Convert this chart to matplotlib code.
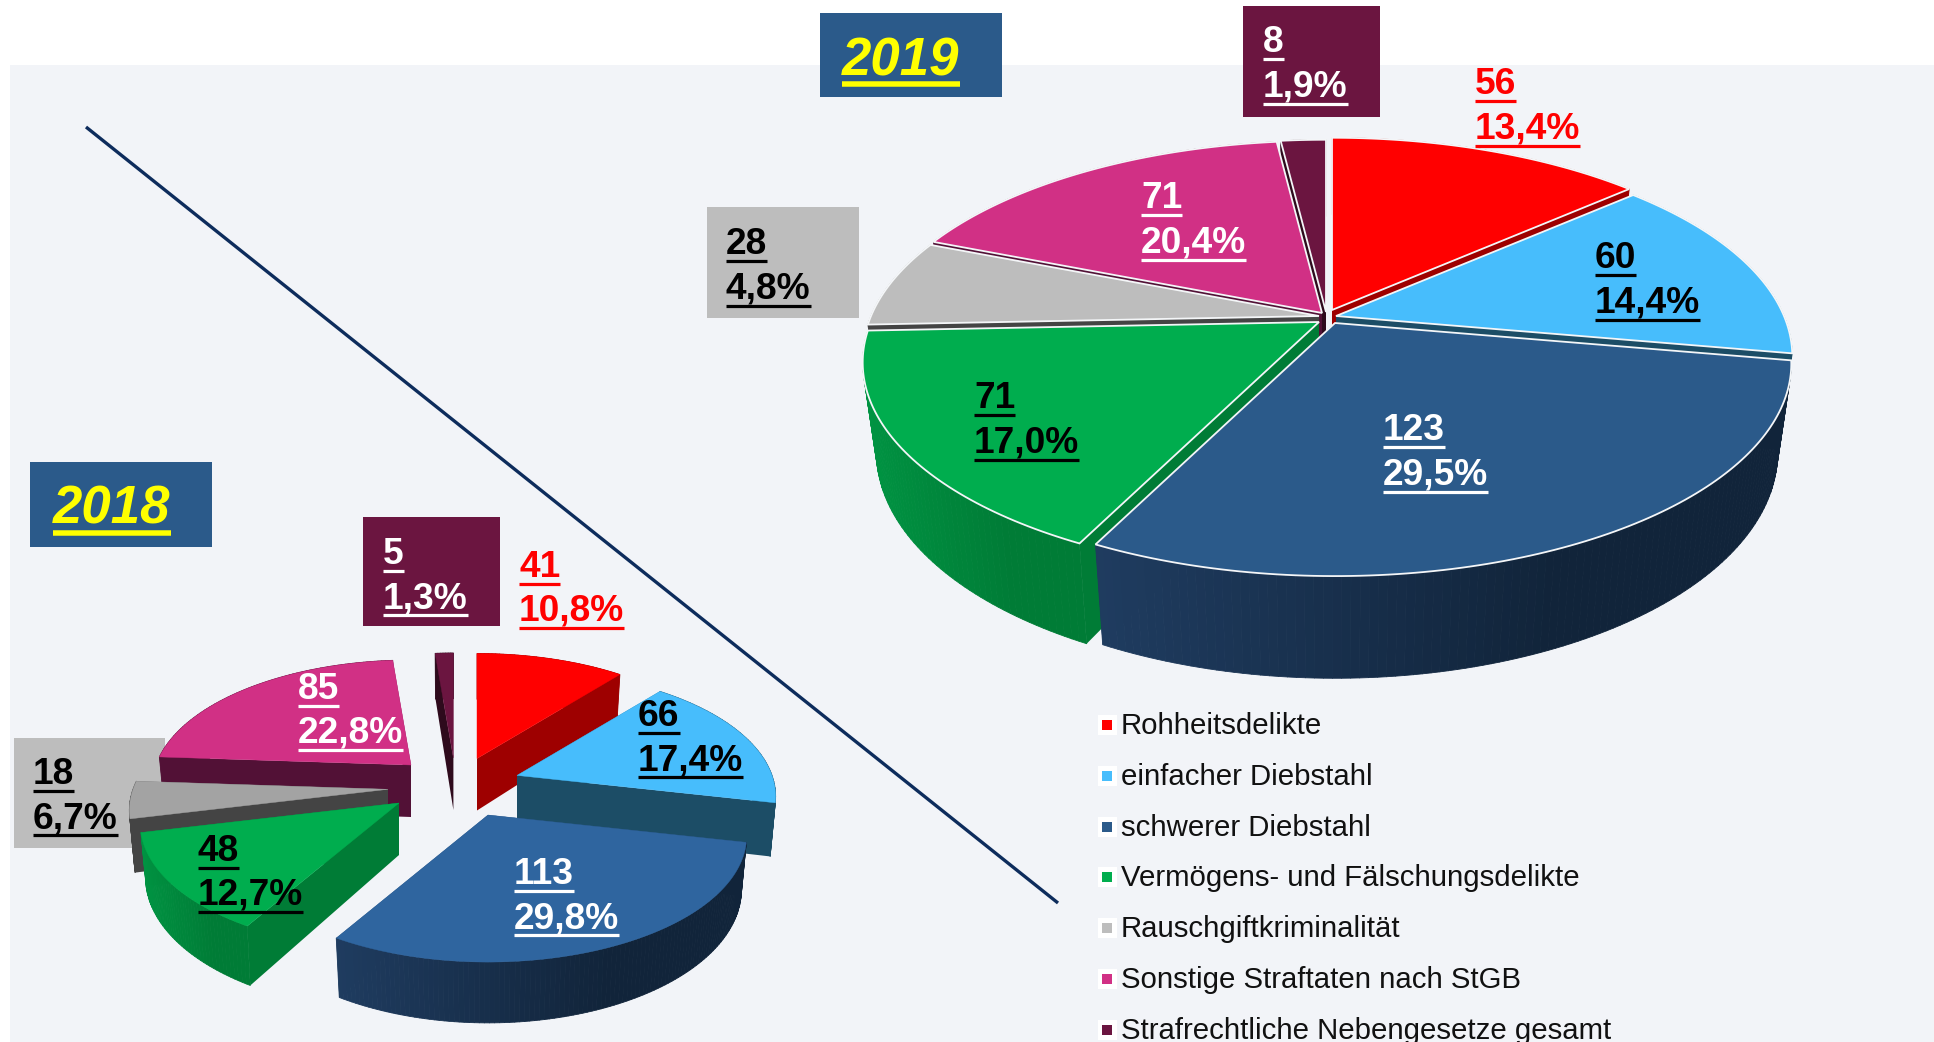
import numpy as np
import matplotlib
matplotlib.use("Agg")
import matplotlib.pyplot as plt
from matplotlib.patches import Rectangle, Polygon
from matplotlib.collections import PolyCollection
from matplotlib.colors import to_rgb

categories = ["Rohheitsdelikte", "einfacher Diebstahl", "schwerer Diebstahl",
              "Vermögens- und Fälschungsdelikte", "Rauschgiftkriminalität",
              "Sonstige Straftaten nach StGB", "Strafrechtliche Nebengesetze gesamt"]
counts_2019 = [56, 60, 123, 71, 28, 71, 8]
shares_2019 = ["13,4%", "14,4%", "29,5%", "17,0%", "4,8%", "20,4%", "1,9%"]
counts_2018 = [41, 66, 113, 48, 18, 85, 5]
shares_2018 = ["10,8%", "17,4%", "29,8%", "12,7%", "6,7%", "22,8%", "1,3%"]

top_2019 = ["#ff0000", "#47bdfc", "#2b5a8a", "#00ad4e", "#bdbdbd", "#d13085", "#6b1540"]
top_2018 = ["#ff0000", "#47bdfc", "#2f659f", "#00ad4e", "#a3a3a3", "#d13085", "#6b1540"]
side_a = ["#9e0000", "#1c4d66", "#1f3c60", "#009342", "#444444", "#521136", "#2e0a1c"]
side_b = ["#9e0000", "#1c4d66", "#11243a", "#007c36", "#444444", "#521136", "#2e0a1c"]
legend_colors = top_2019
text_colors = ["#ff0000", "black", "white", "black", "black", "white", "white"]

W, H = 1934, 1042
fig = plt.figure(figsize=(W / 100, H / 100), dpi=100, facecolor="white")
ax = fig.add_axes([0, 0, 1, 1])
ax.set_xlim(0, W)
ax.set_ylim(H, 0)
ax.axis("off")
FONT = "Liberation Sans"


def rim(a, b, k, th):
    x, y = np.sin(th), np.cos(th)
    s = 1 / (1 + k * y)
    return a * x * s, -b * y * s


def pie3d(values, tops, center, a, b, k, depth, sx, sy, offsets, edge, z0):
    cx, cy = center
    v = np.asarray(values, float)
    edges = np.concatenate([[0], np.cumsum(v)]) / v.sum() * 2 * np.pi
    mids = (edges[:-1] + edges[1:]) / 2
    order = np.argsort(-np.cos(mids))
    z = z0
    for i in order:
        th = np.linspace(edges[i], edges[i + 1], max(8, int((edges[i + 1] - edges[i]) * 60)))
        ax_ = cx + offsets[i][0]
        ay_ = cy + offsets[i][1]
        rx, ry = rim(a, b, k, th)
        tx, ty = ax_ + rx, ay_ + ry
        bx, by = ax_ + rx * sx, ay_ + ry * sy + depth
        # cut faces
        for j in (0, -1):
            face = [(ax_, ay_), (tx[j], ty[j]), (bx[j], by[j]), (ax_, ay_ + depth)]
            ax.add_patch(Polygon(face, closed=True, fc=side_b[i] if i != 2 else "#1f3c60",
                                 ec="none", zorder=z))
        z += 1
        # outer wall, shaded from left to right
        quads, cols = [], []
        ca, cb = np.array(to_rgb(side_a[i])), np.array(to_rgb(side_b[i]))
        for n in range(len(th) - 1):
            quads.append([(tx[n], ty[n]), (tx[n + 1], ty[n + 1]),
                          (bx[n + 1], by[n + 1]), (bx[n], by[n])])
            frac = np.clip((tx[n] - tx.min()) / max(tx.max() - tx.min(), 1) * 1.5, 0, 1)
            cols.append(ca + (cb - ca) * frac)
        ax.add_collection(PolyCollection(quads, facecolors=cols, edgecolors=cols,
                                         linewidths=0.6, zorder=z))
        z += 1
        # top surface
        pts = np.column_stack([np.r_[ax_, tx], np.r_[ay_, ty]])
        ax.add_patch(Polygon(pts, closed=True, fc=tops[i],
                             ec=edge if edge else tops[i],
                             lw=1.3 if edge else 0.3, zorder=z))
        z += 1


def label(x, y, s, color, size=26.7, z=100, style="normal", ul=6.5, ult=3.2):
    t = ax.text(x, y, s, color=color, fontsize=size, family=FONT, weight="bold",
                style=style, va="baseline", ha="left", zorder=z)
    ext = t.get_window_extent(renderer)
    ax.plot([x, x + ext.width], [y + ul, y + ul], color=color,
            lw=ult * 0.72, solid_capstyle="butt", zorder=z)


renderer = fig.canvas.get_renderer()

# background panel
ax.add_patch(Rectangle((10, 65), W - 10, H - 65, fc="#f2f4f8", ec="none", zorder=0))
# divider
ax.plot([86, 1058], [127, 903], color="#0d2c5c", lw=2.4, zorder=1, solid_capstyle="butt")

# label boxes behind the pies
ax.add_patch(Rectangle((707, 207), 152, 111, fc="#bdbdbd", ec="none", zorder=2))
ax.add_patch(Rectangle((14, 738), 151, 110, fc="#bdbdbd", ec="none", zorder=2))

pie3d(counts_2019, top_2019, (1327, 316), 448, 205, 0.19, 87, 0.97, 1.06,
      [(5, -6), (9, 0), (8, 7), (-8, 6), (-8, 0), (-5, -3), (-1, -4)], "#f4f6f8", 10)
pie3d(counts_2018, top_2018, (447, 787), 255, 122.5, 0.167, 52, 0.98, 1.06,
      [(30, -28.5), (70, -11.6), (41, 28), (-48, 16), (-59, 2.3), (-36, -22), (6.4, -29)],
      None, 50)

# year boxes
ax.add_patch(Rectangle((820, 13), 182, 84, fc="#2b5a8a", ec="none", zorder=90))
ax.add_patch(Rectangle((30, 462), 182, 85, fc="#2b5a8a", ec="none", zorder=90))
label(842, 75, "2019", "#ffff00", size=38, style="italic", ul=8.5, ult=5.5)
label(53, 524, "2018", "#ffff00", size=38, style="italic", ul=8.5, ult=5.5)

# small label boxes in front
ax.add_patch(Rectangle((1243, 6), 137, 111, fc="#6b1540", ec="none", zorder=90))
ax.add_patch(Rectangle((363, 517), 137, 109, fc="#6b1540", ec="none", zorder=90))

pos_2019 = [(1475, 94), (1595, 268), (1383, 440), (974, 408), (726, 254), (1141, 208), (1263, 52)]
pos_2018 = [(519, 577), (638, 726), (514, 884), (198, 861), (33, 784), (298, 699), (383, 564)]
for (x, y), n, s, c in zip(pos_2019, counts_2019, shares_2019, text_colors):
    label(x, y, str(n), c)
    label(x, y + 45, s, c)
for (x, y), n, s, c in zip(pos_2018, counts_2018, shares_2018, text_colors):
    label(x, y, str(n), c)
    label(x, y + 44, s, c)

# legend
for i, (name, col) in enumerate(zip(categories, legend_colors)):
    y = 734 + i * 50.8
    ax.add_patch(Rectangle((1097.5, y - 19), 19, 20, fc="white", ec="none", zorder=95))
    ax.add_patch(Rectangle((1102, y - 14), 10, 10, fc=col, ec="none", zorder=96))
    ax.text(1121, y, name, fontsize=21.2, family=FONT, color="#111111",
            va="baseline", ha="left", zorder=96)

fig.savefig("out.png", dpi=100, facecolor="white")
